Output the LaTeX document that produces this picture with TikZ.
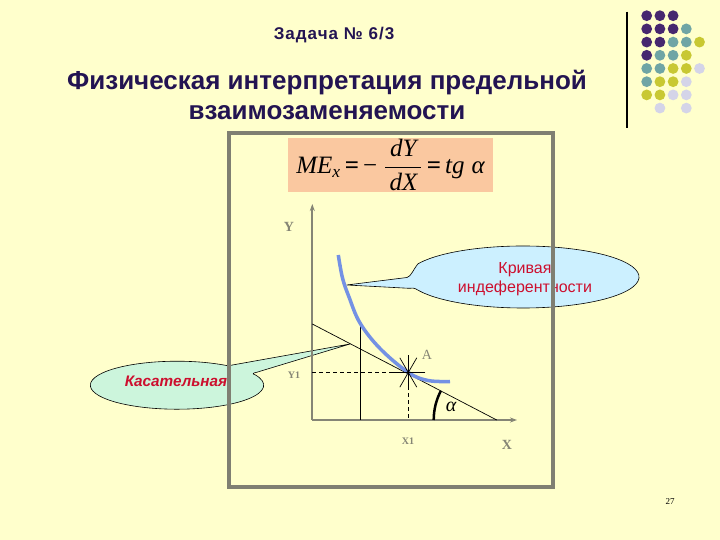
\documentclass[tikz,border=0pt]{standalone}
\usepackage{fontspec}
\usepackage{amsmath}
\setmainfont{Liberation Serif}
\newfontfamily\arialf{Liberation Sans}
\newfontfamily\arialsp[LetterSpace=6]{Liberation Sans}
\definecolor{bgc}{HTML}{FFFFCC}
\definecolor{titlec}{HTML}{231452}
\definecolor{axisc}{HTML}{858575}
\definecolor{framec}{HTML}{7F7F72}
\definecolor{curvec}{HTML}{7491E4}
\definecolor{cyanc}{HTML}{CCF0FF}
\definecolor{mintc}{HTML}{CCF5DC}
\definecolor{peachc}{HTML}{FAC8A0}
\definecolor{redc}{HTML}{CC0F2E}
\definecolor{dpurple}{HTML}{46276F}
\definecolor{dteal}{HTML}{6FA5A5}
\definecolor{dyellow}{HTML}{C8C832}
\definecolor{dlav}{HTML}{D4D4E8}
\usetikzlibrary{arrows.meta,calc}
\begin{document}
\begin{tikzpicture}[x=1pt,y=1pt,
  axisline/.style={draw=axisc,line width=2pt,-{Stealth[length=7pt,width=5pt]}},
  thinline/.style={draw=black,line width=0.7pt},
  dashline/.style={draw=black,line width=0.7pt,dash pattern=on 4pt off 3pt},
  glabel/.style={text=axisc,font=\bfseries\fontsize{14}{16}\selectfont},
  slabel/.style={text=axisc,font=\bfseries\fontsize{10}{12}\selectfont},
  callout/.style={draw=black,line width=0.6pt}]
\useasboundingbox (0,0) rectangle (720,540);
\fill[bgc] (0,0) rectangle (720,540);

% decorative rule and dots
\coordinate (rt) at (627,528.3);
\coordinate (rb) at (627,411.7);
\draw[black,line width=1.2pt] (rt) -- (rb);
\foreach \c/\r/\col in {0/0/dpurple,1/0/dpurple,2/0/dpurple,
  0/1/dpurple,1/1/dpurple,2/1/dpurple,3/1/dteal,
  0/2/dpurple,1/2/dpurple,2/2/dteal,3/2/dteal,4/2/dyellow,
  0/3/dpurple,1/3/dteal,2/3/dteal,3/3/dyellow,
  0/4/dteal,1/4/dteal,2/4/dyellow,3/4/dyellow,4/4/dlav,
  0/5/dteal,1/5/dyellow,2/5/dyellow,3/5/dlav,
  0/6/dyellow,1/6/dyellow,2/6/dlav,3/6/dlav,
  1/7/dlav,3/7/dlav}
  \fill[\col] ({646.7+13.2*\c},{540-15.7-13.2*\r}) circle[radius=5.4];

% titles
\node[text=titlec,font=\arialsp\bfseries\fontsize{17}{20}\selectfont] (task) at (334,505) {Задача № 6/3};
\node[text=titlec,font=\arialf\bfseries\fontsize{26}{30}\selectfont,align=center] (title) at (327,445)
  {Физическая интерпретация предельной\\взаимозаменяемости};

% formula box
\node[fill=peachc,minimum width=205pt,minimum height=54pt,inner sep=0pt] (formula) at (390.5,375) {};
\node[inner sep=0pt,font=\fontsize{25}{28}\selectfont] (formtext) at (formula.center)
  {$\textit{ME}_{\textit{x}}\,\textbf{=}\,\text{−}\;\dfrac{\,\textit{dY}\,}{\,\textit{dX}\,}\,\textbf{=}\,\textit{tg}\;\textit{α}$};

% callout: Кривая индеферентности
\coordinate (ktip) at (346.7,255);
\draw[callout,fill=cyanc] (ktip) -- (407,262.5) .. controls (411,263.5) and (413,270) .. (417.9,276.1)
  arc[start angle=155,end angle=-155,x radius=116,y radius=31]
  .. controls (414,252.5) and (412,252) .. (409,251.7) -- cycle;
\node[text=redc,font=\arialf\fontsize{16}{19}\selectfont,align=center] (kriv) at (525,260.5)
  {Кривая\\индеферентности};

% callout: Касательная
\coordinate (ttip) at (350,196);
\draw[callout,fill=mintc] (ttip) -- (228,174.2)
  arc[start angle=54,end angle=386,x radius=86.7,y radius=24]
  .. controls (252,166) and (253,167) .. (256,167.5) -- cycle;
\node[text=redc,font=\arialf\bfseries\itshape\fontsize{15.3}{17}\selectfont] (kas) at (176,158.3) {Касательная};

% axes
\coordinate (O) at (312.3,120);
\coordinate (Ytop) at (312.3,336);
\coordinate (Xtip) at (517,120);
\draw[axisline] (O) -- (Ytop);
\draw[axisline] (O) -- (Xtip);
\node[glabel] (ylab) at (289,313) {Y};
\node[glabel] (xlab) at (507,95) {X};
\node[slabel] (x1lab) at (408,99) {X1};
\node[slabel] (y1lab) at (294,165) {Y1};
\node[text=axisc,font=\fontsize{14}{16}\selectfont] (alab) at (427,185) {A};
\node[font=\itshape\fontsize{20}{22}\selectfont] (alpha) at (451,133) {α};

% geometry
\coordinate (A) at (408.3,167.5);
\coordinate (T1) at (312.3,216);
\coordinate (T2) at (496.7,120);
\coordinate (V1) at (360.7,216);
\coordinate (V0) at (360.7,120);
\coordinate (AY) at (312.3,167.5);
\coordinate (AX) at (408.3,120);

\draw[dashline] (AY) -- (A);
\draw[dashline] (A) -- (AX);
\draw[thinline] (T1) -- (T2);
\draw[thinline] (V1) -- (V0);
\draw[curvec,line width=3.5pt] plot[smooth,tension=0.6] coordinates
  {(338.3,285) (342.5,262) (349,243) (360,217) (380,191.5) (408.3,167.5) (428,159.5) (450,158.5)};
\foreach \a in {0,60,90,120}
  \draw[thinline] ($(A)+(\a:17)$) -- ($(A)+(\a+180:17)$);
\draw[black,line width=2.5pt] (T2) ++(180:63) arc[start angle=180,end angle=152.5,radius=63];

% frame on top
\draw[framec,line width=3.5pt] (229,407) rectangle (553,53);

% page number
\node[font=\fontsize{9}{10}\selectfont] (pnum) at (670,38.3) {27};
\end{tikzpicture}
\end{document}
